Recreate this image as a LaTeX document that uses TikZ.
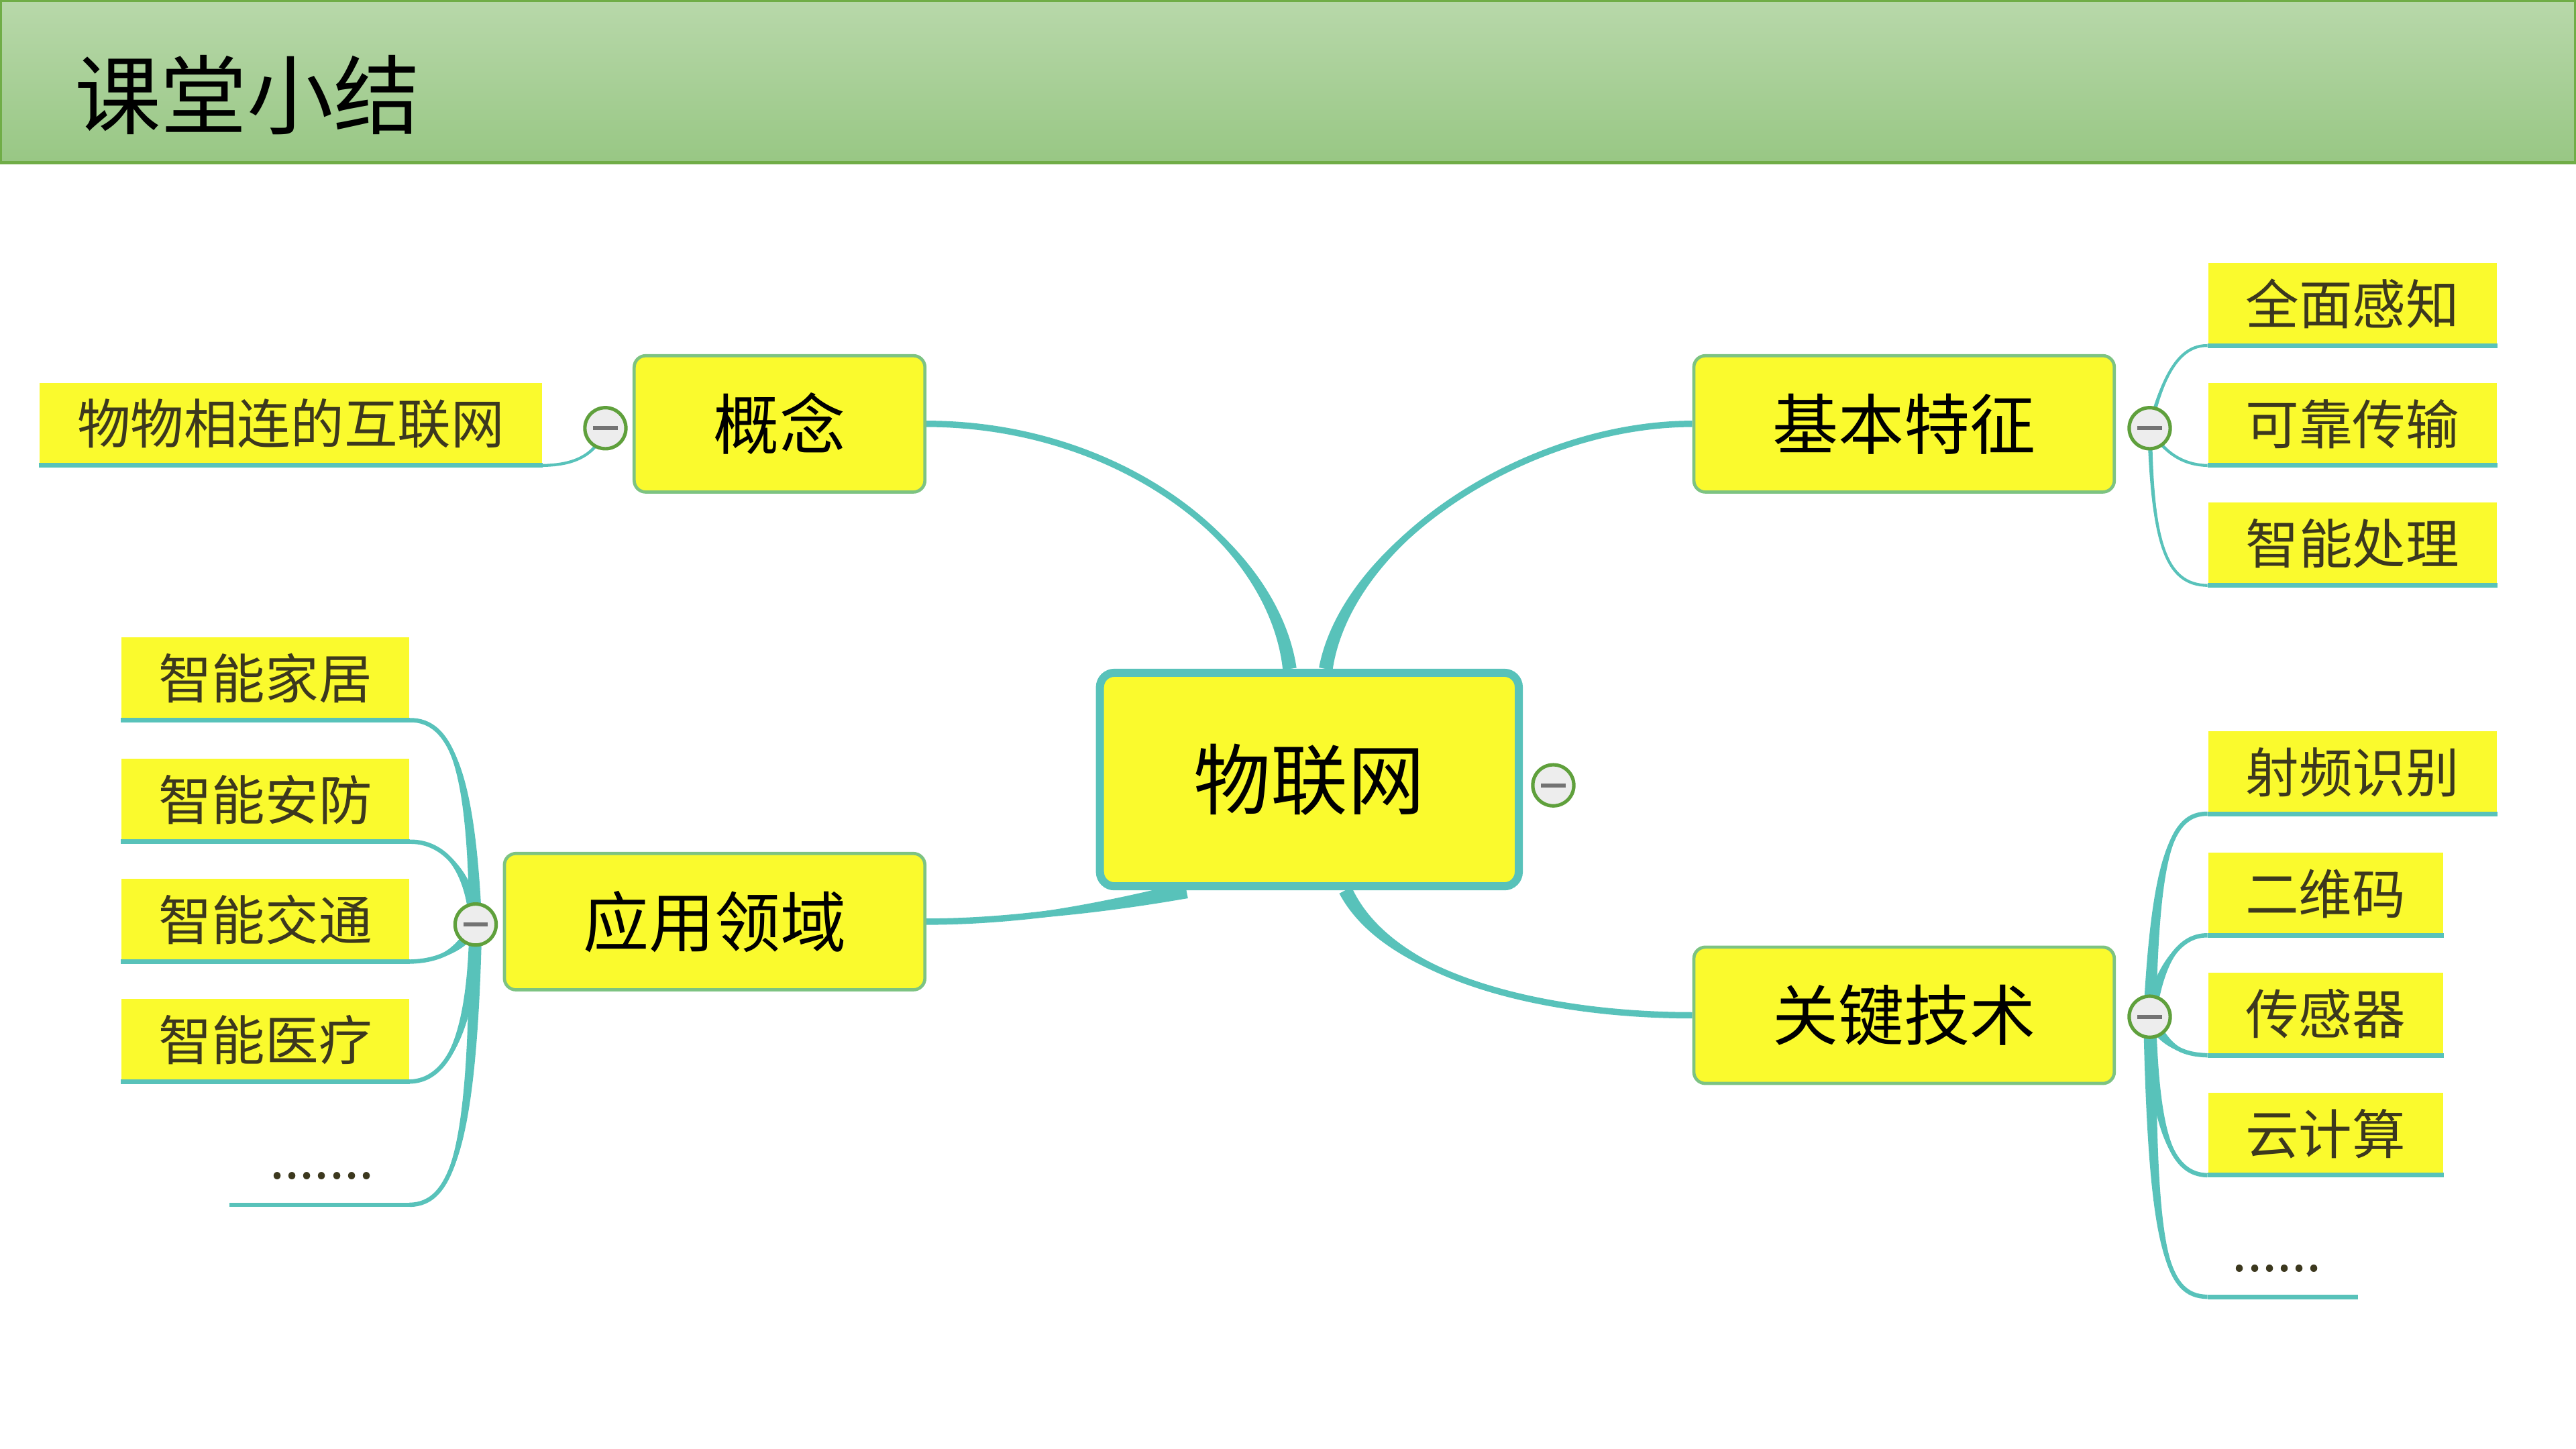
\documentclass[tikz,border=0pt]{standalone}
\usepackage{fontspec}
\setmainfont{Noto Sans CJK SC}
\usetikzlibrary{calc, backgrounds, positioning}

\definecolor{branchteal}{RGB}{88,194,186}
\definecolor{nodeyellow}{RGB}{250,250,45}
\definecolor{nodegreen}{RGB}{125,195,130}
\definecolor{knobgreen}{RGB}{95,160,60}
\definecolor{headtop}{RGB}{184,216,170}
\definecolor{headbot}{RGB}{152,199,132}
\definecolor{headline}{RGB}{112,173,71}
\definecolor{leaftext}{RGB}{60,56,30}

% tapered branch: thick end, control 1, control 2, thin end, half width
\newcommand{\taper}[5]{%
	\coordinate (tp-p) at ($#1!#5!90:#2$);
	\coordinate (tp-m) at ($#1!#5!-90:#2$);
	\fill (tp-p) .. controls ($#2+0.6*(tp-p)-0.6*#1$) and ($#3+0.2*(tp-p)-0.2*#1$) .. #4
		.. controls ($#3+0.2*(tp-m)-0.2*#1$) and ($#2+0.6*(tp-m)-0.6*#1$) .. (tp-m) -- cycle;
	\draw #1 .. controls #2 and #3 .. #4;
}

\begin{document}
\begin{tikzpicture}[
			x=0.02cm, y=-0.02cm,
			% Title band
			mainTitle/.style={font=\fontsize{29.9pt}{34pt}\selectfont, anchor=west, inner sep=0pt},
			% Central topic and main topics
			rootbox/.style={rectangle, rounded corners=5pt, fill=nodeyellow, draw=branchteal, line width=2.8pt,
				minimum width=5.1cm, minimum height=2.6cm, inner sep=0pt, font=\fontsize{26.7pt}{30pt}\selectfont},
			topic/.style={rectangle, rounded corners=4pt, fill=nodeyellow, draw=nodegreen, line width=1.1pt,
				minimum height=1.66cm, inner sep=0pt, font=\fontsize{22.8pt}{26pt}\selectfont},
			% Leaves with underline
			leaf/.style={rectangle, fill=nodeyellow, minimum height=1cm, inner sep=0pt, text=leaftext,
				font=\fontsize{18.5pt}{22pt}\selectfont},
			dotleaf/.style={leaf, fill=none},
			leafline/.style={branchteal, line width=1.6pt},
			% Collapse knobs
			knob/.style={circle, draw=knobgreen, line width=1.2pt, fill=black!7, minimum size=0.5cm, inner sep=0pt,
				path picture={\draw[black!55, line width=1.4pt] ([xshift=-4.2pt]path picture bounding box.center) -- ([xshift=4.2pt]path picture bounding box.center);}},
			thickbranch/.style={branchteal, line width=2.2pt},
			midbranch/.style={branchteal, line width=1.5pt},
			thinbranch/.style={branchteal, line width=1pt}
			]
			\useasboundingbox (0,0) rectangle (1568,882);
			
			% ==============================================================================
			% TITLE BAND
			% ==============================================================================
			\shade[top color=headtop, bottom color=headbot] (0,0) rectangle (1568,99);
			\draw[headline, line width=1pt] (0.5,0.5) rectangle (1567.5,99);
			\node[mainTitle] (title) at (45,58) {课堂小结};
			
			% ==============================================================================
			% TOPICS
			% ==============================================================================
			\node[rootbox] (iot) at (797,474.5) {物联网};
			\node[topic, minimum width=3.54cm] (concept) at (474.5,258) {概念};
			\node[topic, minimum width=5.12cm] (feature) at (1159,258) {基本特征};
			\node[topic, minimum width=5.12cm] (apply) at (435,561) {应用领域};
			\node[topic, minimum width=5.12cm] (tech) at (1159,618) {关键技术};
			
			% Knobs
			\node[knob, right=0.1cm of iot, yshift=-2pt] (kiot) {};
			\node[knob, left=0.06cm of concept, yshift=-1.5pt] (kconcept) {};
			\node[knob, right=0.14cm of feature, yshift=-1.5pt] (kfeature) {};
			\node[knob, left=0.06cm of apply, yshift=-1pt] (kapply) {};
			\node[knob, right=0.14cm of tech, yshift=-0.5pt] (ktech) {};
			
			% ==============================================================================
			% LEAVES
			% ==============================================================================
			\node[leaf, minimum width=6.12cm] (lnet) at (177,258) {物物相连的互联网};
			
			% feature leaves
			\node[leaf, minimum width=3.52cm] (f1) at (1432,185) {全面感知};
			\node[leaf, minimum width=3.52cm] (f2) at (1432,258) {可靠传输};
			\node[leaf, minimum width=3.52cm] (f3) at (1432,331) {智能处理};
			
			% apply leaves
			\node[leaf, minimum width=3.5cm] (a1) at (161.5,413) {智能家居};
			\node[leaf, minimum width=3.5cm] (a2) at (161.5,487) {智能安防};
			\node[leaf, minimum width=3.5cm] (a3) at (161.5,560) {智能交通};
			\node[leaf, minimum width=3.5cm] (a4) at (161.5,633) {智能医疗};
			\node[dotleaf, minimum width=2.18cm] (a5) at (194.5,708) {};
			\node[leaftext, font=\fontsize{18.5pt}{22pt}\selectfont] (a5dots) at (196,716) {.......};
			
			% tech leaves
			\node[leaf, minimum width=3.52cm] (t1) at (1432,470) {射频识别};
			\node[leaf, minimum width=2.86cm] (t2) at (1415.5,544) {二维码};
			\node[leaf, minimum width=2.86cm] (t3) at (1415.5,617) {传感器};
			\node[leaf, minimum width=2.86cm] (t4) at (1415.5,690) {云计算};
			\node[dotleaf, minimum width=1.82cm] (t5) at (1389.5,764) {};
			\node[leaftext, font=\fontsize{18.5pt}{22pt}\selectfont] (t5dots) at (1386,772) {......};
			
			\foreach \n in {lnet, f1, f2, f3, a1, a2, a3, a4, a5, t1, t2, t3, t4, t5}
				\draw[leafline] (\n.south west) -- (\n.south east);
			
			% ==============================================================================
			% BRANCHES
			% ==============================================================================
			\coordinate (iot-c) at ($(iot.north)+(-12,0)$);
			\coordinate (iot-f) at ($(iot.north)+(10,0)$);
			\coordinate (iot-a) at ($(iot.south west)+(55,0)$);
			\coordinate (iot-t) at ($(iot.south)+(22,0)$);
			
			\begin{scope}[on background layer]
				\begin{scope}[thickbranch]
					\taper{(iot-c)}{(775,330)}{(680,258)}{(concept.east)}{2.4pt}
					\taper{(iot-f)}{(820,330)}{(930,258)}{(feature.west)}{2.4pt}
					\taper{(iot-a)}{(670,553)}{(615,561)}{(apply.east)}{2.8pt}
					\taper{(iot-t)}{(845,595)}{(940,618)}{(tech.west)}{2.4pt}
				\end{scope}
				
				\begin{scope}[thinbranch]
					\taper{(kconcept.center)}{(362,280)}{(345,283)}{(lnet.south east)}{0.8pt}
					\taper{(kfeature.center)}{(1316,230)}{(1326,210)}{(f1.south west)}{0.8pt}
					\taper{(kfeature.center)}{(1318,277)}{(1330,283)}{(f2.south west)}{0.8pt}
					\taper{(kfeature.center)}{(1310,330)}{(1318,356)}{(f3.south west)}{0.8pt}
				\end{scope}
				
				\begin{scope}[midbranch]
					\taper{(kapply.center)}{(287,470)}{(275,438)}{(a1.south east)}{2.2pt}
					\taper{(kapply.center)}{(286,530)}{(270,512)}{(a2.south east)}{2.2pt}
					\taper{(kapply.center)}{(280,580)}{(265,585)}{(a3.south east)}{2.2pt}
					\taper{(kapply.center)}{(287,630)}{(272,658)}{(a4.south east)}{2.2pt}
					\taper{(kapply.center)}{(288,700)}{(275,733)}{(a5.south east)}{2.2pt}
					
					\taper{(ktech.center)}{(1312,520)}{(1322,495)}{(t1.south west)}{2.2pt}
					\taper{(ktech.center)}{(1314,590)}{(1325,569)}{(t2.south west)}{2.2pt}
					\taper{(ktech.center)}{(1318,638)}{(1330,642)}{(t3.south west)}{2.2pt}
					\taper{(ktech.center)}{(1312,690)}{(1322,715)}{(t4.south west)}{2.2pt}
					\taper{(ktech.center)}{(1310,760)}{(1318,789)}{(t5.south west)}{2.2pt}
				\end{scope}
			\end{scope}
			
		\end{tikzpicture}
\end{document}
